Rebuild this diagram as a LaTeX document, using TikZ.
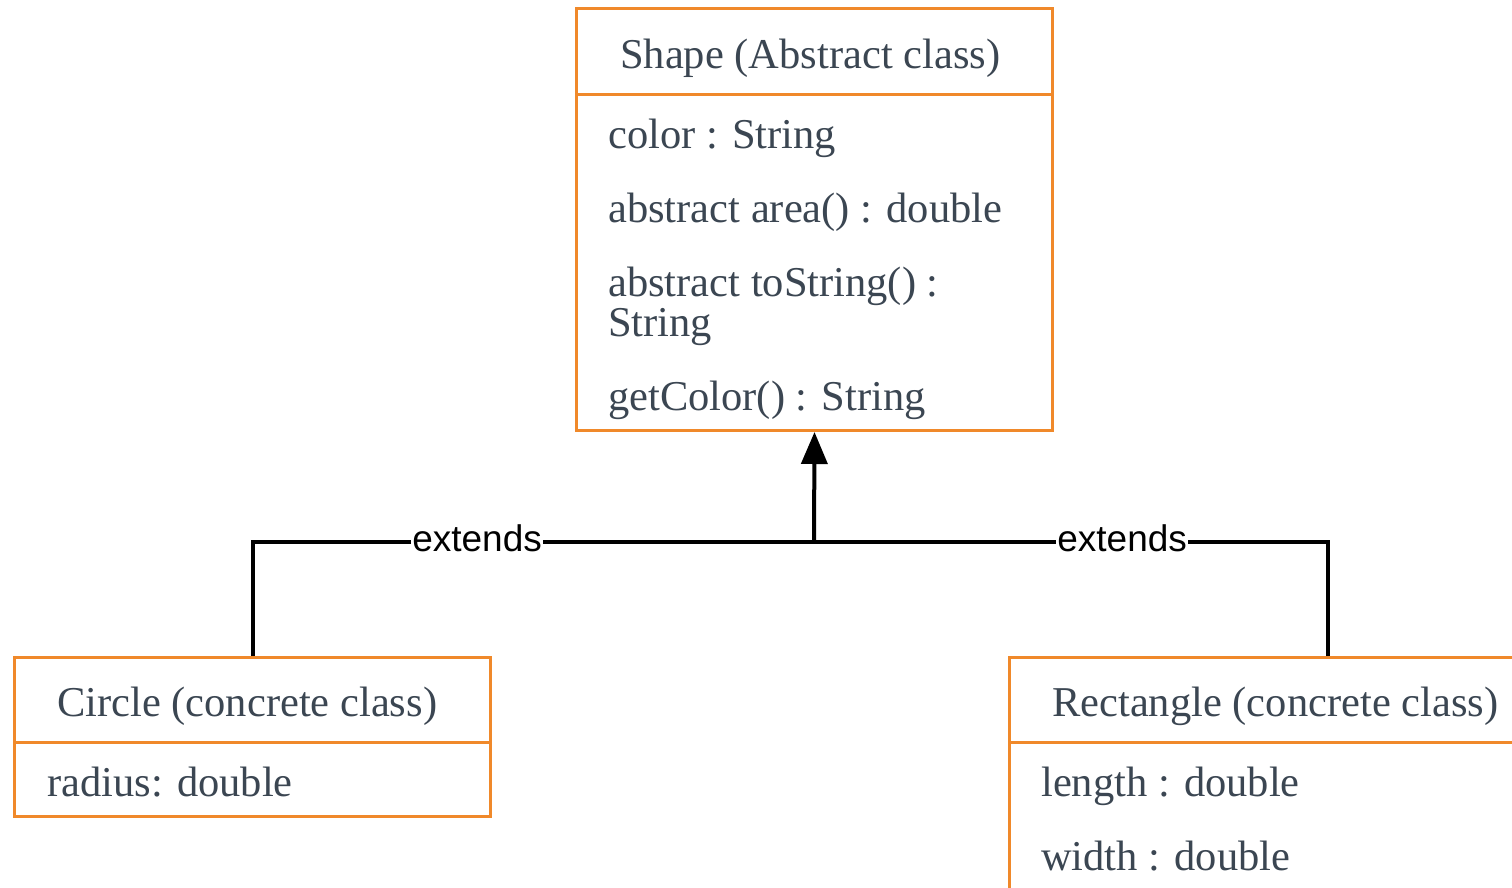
\documentclass[tikz,border=0pt]{standalone}
\usepackage{fontspec}
\setmainfont{Liberation Serif}
\newfontfamily\labelfont{Liberation Sans}
\usetikzlibrary{arrows.meta}
\definecolor{umlorange}{HTML}{F0892A}
\definecolor{umltext}{HTML}{3B4652}
\tikzset{
  classbox/.style={draw=umlorange, line width=3pt, rectangle, inner sep=0pt},
  divider/.style={draw=umlorange, line width=3pt},
  member/.style={anchor=base west, inner sep=0pt, text=umltext, font=\fontsize{42.5}{46}\selectfont},
  conn/.style={draw=black, line width=4pt},
  extlabel/.style={fill=white, inner sep=1pt, yshift=4pt, font=\labelfont\fontsize{37}{40}\selectfont, text=black}
}
\begin{document}
\begin{tikzpicture}[x=1pt,y=-1pt]
\useasboundingbox (0,0) rectangle (1512,887);
\clip (0,0) rectangle (1512,887);
\fill[white] (0,0) rectangle (1512,887);
% boxes
\node[classbox, minimum width=476pt, minimum height=422pt, anchor=north west] (shape) at (575,7) {};
\node[classbox, minimum width=476pt, minimum height=159pt, anchor=north west] (circle) at (13,656) {};
\node[classbox, minimum width=636pt, minimum height=300pt, anchor=north west] (rect) at (1008,656) {};
\draw[divider] (575,94) -- (1051,94);
\draw[divider] (13,742) -- (489,742);
\draw[divider] (1008,742) -- (1644,742);
% texts
\node[member] (t1) at (620,68) {Shape (Abstract class)};
\node[member] (t2) at (608,148) {color : String};
\node[member] (t3) at (608,222) {abstract area() : double};
\node[member] (t4) at (608,296) {abstract toString() :};
\node[member] (t5) at (608,336) {String};
\node[member] (t6) at (608,410) {getColor() : String};
\node[member] (t7) at (57,716) {Circle (concrete class)};
\node[member] (t8) at (47,796) {radius: double};
\node[member] (t9) at (1052,716) {Rectangle (concrete class)};
\node[member] (t10) at (1041,796) {length : double};
\node[member] (t11) at (1041,870) {width : double};
% connectors
\coordinate (j) at (814,542);
\draw[conn] (circle.north) |- (j) node[extlabel, pos=0.7] (e1) {extends};
\draw[conn] (rect.north) |- (j) node[extlabel, pos=0.7] (e2) {extends};
\draw[conn, -{Triangle[length=32pt,width=26pt]}] (j) -- (shape.south);
\end{tikzpicture}
\end{document}
